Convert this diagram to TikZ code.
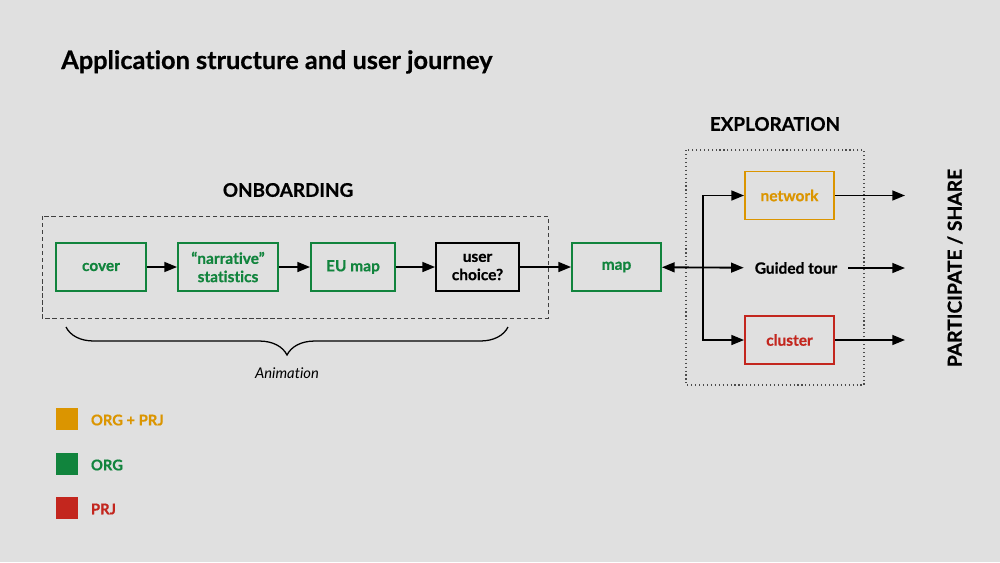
\documentclass[tikz,border=0pt]{standalone}
\usepackage{fontspec}
\setmainfont{Lato}[Ligatures={TeX,NoCommon}, BoldFeatures={FakeBold=0.6}]
\usetikzlibrary{arrows.meta, decorations.pathreplacing}
\definecolor{bggray}{HTML}{E0E0E0}
\definecolor{orggreen}{HTML}{11843D}
\definecolor{bothorange}{HTML}{DB9500}
\definecolor{prjred}{HTML}{C3261E}

\begin{document}
\begin{tikzpicture}[x=0.025cm, y=-0.025cm,
		box/.style={draw, line width=1.3pt, minimum width=#1, minimum height=1.2cm, align=center, font=\bfseries\fontsize{11}{13}\selectfont},
		box/.default=2.25cm,
		flow/.style={-{Triangle[length=9pt, width=7pt]}, line width=1.3pt},
		heading/.style={font=\bfseries\fontsize{13.4}{15}\selectfont},
		swatch/.style={fill=#1, minimum size=0.55cm, inner sep=0pt},
		legend/.style={anchor=west, text=#1, font=\bfseries\fontsize{10.5}{12}\selectfont}]
	\fill [bggray] (0,0) rectangle (1000,562);
	\node [anchor=base west, inner sep=0pt, font=\bfseries\fontsize{18}{21}\selectfont] (title) at (61,69) {Application structure and user journey};

	\node [heading] (onboarding) at (288,190) {ONBOARDING};
	\node [heading] (exploration) at (775,124) {EXPLORATION};
	\draw [densely dashed, line width=0.6pt, black!75] (42,216) rectangle (548,318);
	\draw [dotted, line width=0.8pt, black!70] (686,150) rectangle (864,385);

	\node [box, orggreen] (cover) at (101,267) {cover};
	\node [box=2.5cm, orggreen] (narrative) at (228,267) {“narrative”\\statistics};
	\node [box=2.1cm, orggreen] (eumap) at (353,267) {EU map};
	\node [box=2.075cm, black] (choice) at (477.5,267) {user\\choice?};
	\node [box=2.225cm, orggreen] (map) at (616.5,267) {map};
	\node [box=2.225cm, bothorange] (network) at (789.5,195.5) {network};
	\node [box=2.225cm, prjred] (cluster) at (789.5,340) {cluster};
	\node [font=\bfseries\fontsize{11}{13}\selectfont, minimum width=2.6cm, inner sep=0pt] (tour) at (796,268) {Guided tour};
	\node [rotate=90, font=\bfseries\fontsize{13.7}{17}\selectfont] (share) at (955,268) {PARTICIPATE / SHARE};

	\coordinate (split) at (703,268);
	\coordinate (out1) at (905,195.5);
	\coordinate (out2) at (905,268);
	\coordinate (out3) at (905,340);

	\draw [flow] (cover) -- (narrative);
	\draw [flow] (narrative) -- (eumap);
	\draw [flow] (eumap) -- (choice);
	\draw [flow] (choice) -- (map);
	\draw [flow, {Triangle[length=9pt, width=7pt]}-{Triangle[length=9pt, width=7pt]}] (map) -- (tour);
	\draw [flow] (split) |- (network);
	\draw [flow] (split) |- (cluster);
	\draw [flow] (network) -- (out1);
	\draw [flow] (tour) -- (out2);
	\draw [flow] (cluster) -- (out3);

	\draw [decorate, decoration={brace, mirror, amplitude=0.7cm}, line width=0.9pt] (66,327) -- (508,327);
	\node [font=\itshape\fontsize{10.5}{12}\selectfont] (animation) at (287,373) {Animation};

	\node [swatch=bothorange] (sw1) at (67,419) {};
	\node [swatch=orggreen] (sw2) at (67,464) {};
	\node [swatch=prjred] (sw3) at (67,508) {};
	\node [legend=bothorange] (lab1) at (86,420) {ORG + PRJ};
	\node [legend=orggreen] (lab2) at (86,465) {ORG};
	\node [legend=prjred] (lab3) at (86,509) {PRJ};
\end{tikzpicture}
\end{document}
